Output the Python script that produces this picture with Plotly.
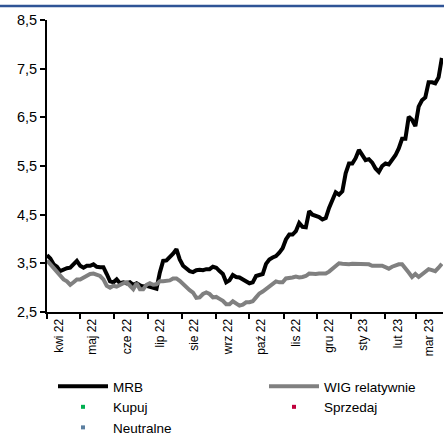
import pandas as pd
import plotly.graph_objects as go

# Sampling grid: every third calendar day from 1 April 2022
dates = pd.date_range("2022-04-01", periods=120, freq="3D")

mrb = [
    3.67, 3.60, 3.48, 3.43, 3.34, 3.38, 3.40, 3.41, 3.47, 3.55,
    3.45, 3.41, 3.45, 3.45, 3.48, 3.43, 3.42, 3.42, 3.28, 3.13,
    3.11, 3.17, 3.09, 3.11, 3.09, 3.11, 3.06, 3.09, 3.05, 3.02,
    3.04, 3.02, 2.99, 2.98, 3.31, 3.55, 3.56, 3.62, 3.70, 3.79,
    3.58, 3.45, 3.40, 3.34, 3.32, 3.36, 3.37, 3.36, 3.38, 3.38,
    3.43, 3.41, 3.34, 3.28, 3.11, 3.15, 3.26, 3.22, 3.21, 3.17,
    3.14, 3.09, 3.11, 3.24, 3.26, 3.28, 3.49, 3.58, 3.62, 3.65,
    3.72, 3.81, 3.99, 4.09, 4.09, 4.16, 4.33, 4.25, 4.24, 4.57,
    4.50, 4.48, 4.45, 4.40, 4.43, 4.64, 4.81, 4.96, 4.91, 4.98,
    5.35, 5.55, 5.55, 5.66, 5.83, 5.74, 5.62, 5.64, 5.57, 5.45,
    5.38, 5.50, 5.55, 5.53, 5.62, 5.72, 5.86, 6.06, 6.06, 6.51,
    6.45, 6.32, 6.72, 6.85, 6.91, 7.22, 7.22, 7.20, 7.32, 7.72,
]

wig_rel = [
    3.56, 3.48, 3.38, 3.31, 3.23, 3.17, 3.13, 3.06, 3.11, 3.17,
    3.17, 3.21, 3.24, 3.28, 3.29, 3.26, 3.24, 3.17, 3.04, 3.00,
    3.04, 3.02, 3.06, 3.09, 3.11, 3.04, 2.97, 3.09, 2.97, 2.97,
    3.06, 3.09, 3.06, 3.07, 3.13, 3.13, 3.13, 3.15, 3.19, 3.19,
    3.14, 3.07, 3.00, 2.95, 2.90, 2.79, 2.80, 2.87, 2.90, 2.87,
    2.80, 2.81, 2.77, 2.73, 2.66, 2.66, 2.72, 2.68, 2.63, 2.65,
    2.70, 2.70, 2.72, 2.80, 2.88, 2.92, 2.97, 3.02, 3.07, 3.13,
    3.11, 3.11, 3.19, 3.19, 3.21, 3.23, 3.21, 3.22, 3.24, 3.29,
    3.28, 3.28, 3.29, 3.28, 3.29, 3.33, 3.38, 3.45, 3.50, 3.49,
    3.48, 3.48, 3.49, 3.49, 3.48, 3.48, 3.48, 3.48, 3.45, 3.44,
    3.45, 3.45, 3.41, 3.39, 3.43, 3.46, 3.48, 3.48, 3.38, 3.31,
    3.22, 3.28, 3.22, 3.28, 3.34, 3.38, 3.36, 3.34, 3.41, 3.49,
]

month_labels = [
    "kwi 22", "maj 22", "cze 22", "lip 22", "sie 22", "wrz 22",
    "paź 22", "lis 22", "gru 22", "sty 23", "lut 23", "mar 23",
]
label_dates = pd.date_range("2022-04-01", periods=12, freq="MS") + pd.Timedelta(days=11)
y_ticks = [2.5, 3.5, 4.5, 5.5, 6.5, 7.5, 8.5]

FONT = "Liberation Sans, Arial, sans-serif"
W, H = 444, 437
ML, MR, MT, MB = 47, 1, 20, 125

fig = go.Figure()
fig.add_trace(go.Scatter(x=dates, y=mrb, mode="lines", name="MRB",
                         line=dict(color="#000000", width=4), legend="legend"))
fig.add_trace(go.Scatter(x=dates, y=wig_rel, mode="lines", name="WIG relatywnie",
                         line=dict(color="#808080", width=4), legend="legend2"))
fig.add_trace(go.Scatter(x=[None], y=[None], mode="markers", name="Kupuj",
                         marker=dict(color="#00B050", size=4, symbol="square"), legend="legend"))
fig.add_trace(go.Scatter(x=[None], y=[None], mode="markers", name="Sprzedaj",
                         marker=dict(color="#C0003C", size=4, symbol="square"), legend="legend2"))
fig.add_trace(go.Scatter(x=[None], y=[None], mode="markers", name="Neutralne",
                         marker=dict(color="#5B7FA0", size=4, symbol="square"), legend="legend"))

legend_common = dict(
    orientation="v", bgcolor="rgba(0,0,0,0)", itemwidth=50,
    font=dict(family=FONT, size=13.5, color="#000000"),
    xref="container", yref="container", xanchor="left", yanchor="top",
    tracegroupgap=0, itemclick=False,
)

fig.update_layout(
    width=W, height=H,
    margin=dict(l=ML, r=MR, t=MT, b=MB, autoexpand=False),
    paper_bgcolor="#ffffff", plot_bgcolor="#ffffff",
    separators=", ",
    font=dict(family=FONT, size=14, color="#000000"),
    showlegend=True,
    legend=dict(x=53 / W, y=1 - 371 / H, **legend_common),
    legend2=dict(x=264 / W, y=1 - 371 / H, **legend_common),
    xaxis=dict(
        type="date",
        range=["2022-04-01", "2023-03-25"],
        tickmode="array", tickvals=label_dates, ticktext=month_labels,
        tickangle=-90, ticks="", ticklen=0,
        tickfont=dict(family=FONT, size=12),
        showgrid=False, zeroline=False,
        showline=True, linecolor="#000000", linewidth=2,
        minor=dict(ticks="outside", ticklen=5, tickwidth=2, tickcolor="#000000",
                   dtick="M1", tick0="2022-04-01", showgrid=False),
    ),
    yaxis=dict(
        range=[2.5, 8.5],
        tickmode="array", tickvals=y_ticks, tickformat=".1f",
        ticks="outside", ticklen=5, tickwidth=2, tickcolor="#000000",
        tickfont=dict(family=FONT, size=14.5),
        showgrid=False, zeroline=False,
        showline=True, linecolor="#000000", linewidth=2,
    ),
    shapes=[dict(
        type="line", xref="paper", yref="paper",
        x0=-ML / (W - ML - MR), x1=1 + MR / (W - ML - MR),
        y0=1 + 14 / (H - MT - MB), y1=1 + 14 / (H - MT - MB),
        line=dict(color="#2F5496", width=2.5),
    )],
)

fig.write_html("out.html")
